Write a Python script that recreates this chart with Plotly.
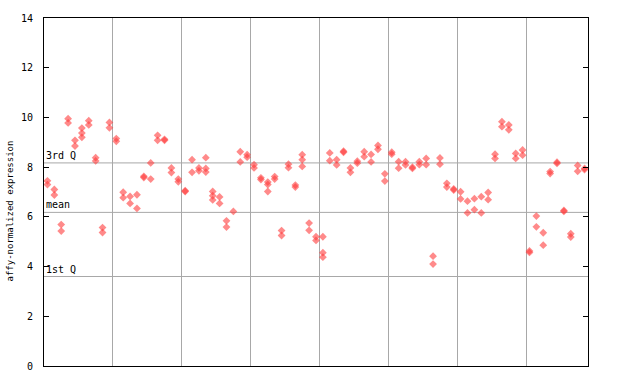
import plotly.graph_objects as go

samples = list(range(79))
rep1 = [7.45, 7.1, 5.69, 9.95, 9.08, 9.57, 9.87, 8.38, 5.57, 9.8,
        9.15, 6.99, 6.82, 6.89, 7.63, 8.17, 9.28, 9.12, 7.97, 7.52,
        7.05, 8.3, 7.97, 8.38, 7.02, 6.8, 5.84, 6.22, 8.62, 8.5,
        8.1, 7.57, 7.4, 7.62, 5.45, 8.12, 7.28, 8.5, 5.75, 5.2,
        5.2, 8.57, 8.3, 8.64, 7.97, 8.24, 8.62, 8.51, 8.87, 7.73,
        8.6, 8.22, 8.22, 8.0, 8.22, 8.35, 4.42, 8.37, 7.35, 7.12,
        7.01, 6.63, 6.73, 6.81, 6.98, 8.52, 9.83, 9.7, 8.55, 8.69,
        4.63, 6.03, 5.36, 7.82, 8.2, 6.26, 5.32, 8.07, 7.95]
rep2 = [7.3, 6.88, 5.43, 9.78, 8.85, 9.37, 9.7, 8.25, 5.37, 9.58,
        9.04, 6.77, 6.54, 6.34, 7.58, 7.52, 9.08, 9.08, 7.78, 7.41,
        7.02, 7.79, 7.85, 7.95, 6.85, 6.54, 5.59, None, 8.21, 8.4,
        7.97, 7.5, 7.3, 7.52, 5.25, 7.98, 7.2, 8.3, 5.46, 5.05,
        4.56, 8.26, 8.09, 8.6, 7.79, 8.16, 8.42, 8.21, 8.72, 7.44,
        8.52, 7.96, 8.09, 7.95, 8.1, 8.1, 4.1, 8.12, 7.2, 7.08,
        6.72, 6.16, 6.29, 6.16, 6.69, 8.35, 9.63, 9.5, 8.35, 8.48,
        4.57, 5.6, 4.86, 7.74, 8.15, 6.22, 5.19, 7.83, 7.9]
rep3 = {5: 9.2, 23: 7.8, 24: 6.68, 32: 7.02, 37: 8.03, 40: 4.38}

q3_value = 8.17
mean_value = 6.18
q1_value = 3.6
group_bounds = [9.5, 19.5, 29.5, 39.5, 49.5, 59.5, 69.5]
y_ticks = [0, 2, 4, 6, 8, 10, 12, 14]

xs, ys = [], []
for s, a, b in zip(samples, rep1, rep2):
    for v in (a, b):
        if v is not None:
            xs.append(s)
            ys.append(v)
for s, v in rep3.items():
    xs.append(s)
    ys.append(v)

font = dict(family="DejaVu Sans Mono", size=10, color="black")
title_font = dict(family="DejaVu Sans Mono", size=9, color="black")
grid = "#a8a8a8"

fig = go.Figure()
fig.add_trace(go.Scatter(
    x=xs, y=ys, mode="markers",
    marker=dict(symbol="diamond", size=6, color="rgba(255,60,60,0.6)",
                line=dict(width=0)),
    hoverinfo="y", showlegend=False))

for val in (q3_value, mean_value, q1_value):
    fig.add_shape(type="line", xref="paper", x0=0, x1=1, yref="y", y0=val, y1=val,
                  line=dict(color=grid, width=1), layer="below")

for txt, val in (("3rd Q", q3_value), ("mean", mean_value), ("1st Q", q1_value)):
    fig.add_annotation(text=txt, xref="paper", x=0.0, yref="y", y=val,
                       xanchor="left", yanchor="bottom", showarrow=False,
                       font=font, yshift=0)

fig.add_annotation(text="affy-normalized expression", xref="paper", yref="paper",
                   x=-0.0625, y=0.444, textangle=-90, showarrow=False,
                   xanchor="center", yanchor="middle", font=title_font)

fig.update_layout(
    width=640, height=384,
    margin=dict(l=44, r=52, t=13, b=15),
    paper_bgcolor="white", plot_bgcolor="white",
    font=font,
    xaxis=dict(range=[-0.5, 78.5], tickvals=group_bounds, showticklabels=False,
               ticks="", showgrid=True, gridcolor=grid, gridwidth=1,
               showline=True, linecolor="black", linewidth=1, mirror=True,
               zeroline=False),
    yaxis=dict(range=[0, 14], tickvals=y_ticks, ticks="inside", ticklen=5,
               tickcolor="black", showgrid=False, zeroline=False,
               showline=True, linecolor="black", linewidth=1, mirror="ticks",
               ticklabelstandoff=8),
)

fig.write_html("out.html", config={"displayModeBar": False},
               post_script="document.body.style.margin='0';document.body.style.overflow='hidden';")
